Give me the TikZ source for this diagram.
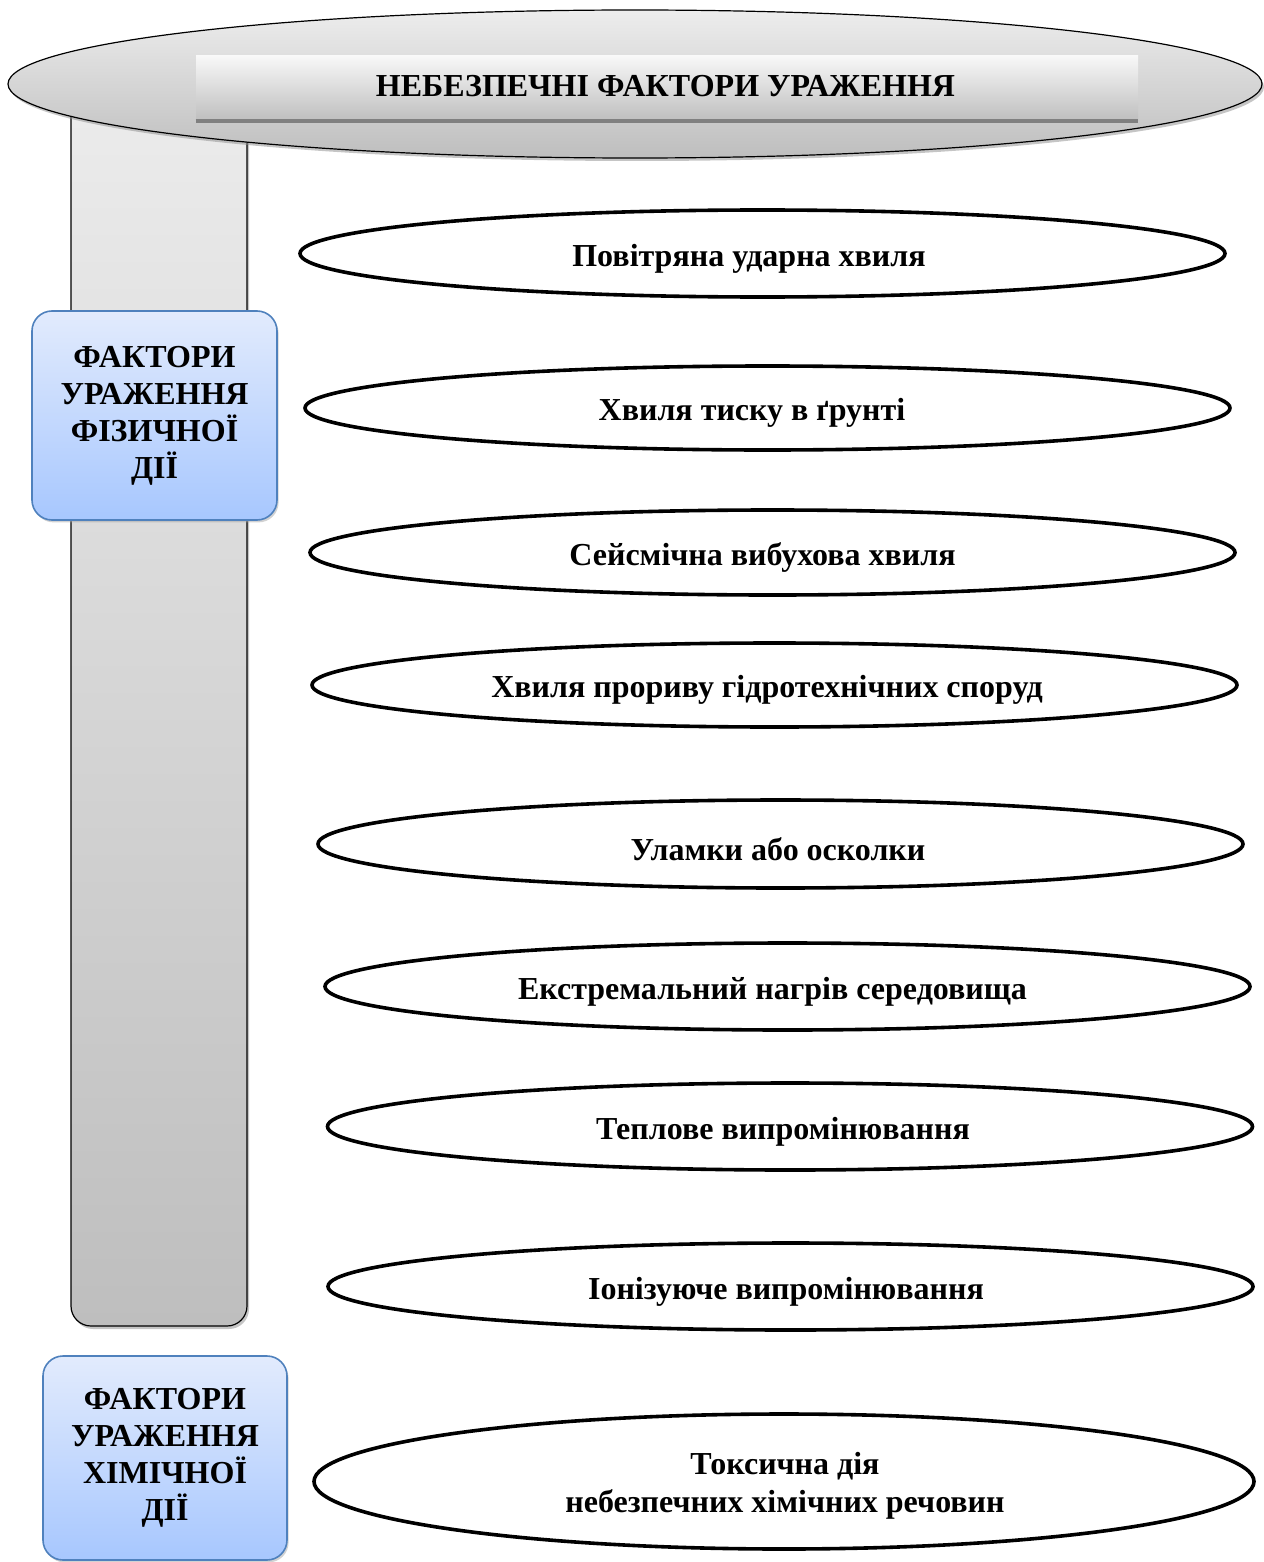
\documentclass[tikz,border=0pt]{standalone}
\usepackage{fontspec}
\setmainfont{Liberation Serif}
\usetikzlibrary{shapes.geometric,shadows}

\definecolor{greytop}{HTML}{EDEDED}
\definecolor{greybot}{HTML}{BEBEBE}
\definecolor{bluetop}{HTML}{E2EBFD}
\definecolor{bluebot}{HTML}{A7C7FE}
\definecolor{blueedge}{HTML}{4F81BD}

\tikzset{
  factor/.style={ellipse, draw=black, line width=1.8pt, fill=white, inner sep=0pt,
    minimum width=462.5pt},
  factortext/.style={inner sep=0pt, align=center, font=\bfseries\fontsize{16}{19}\selectfont},
  groupbox/.style={rectangle, rounded corners=10pt, draw=blueedge, line width=0.8pt,
    top color=bluetop, bottom color=bluebot, inner sep=0pt, align=center,
    font=\bfseries\fontsize{16}{18.5}\selectfont,
    drop shadow={shadow xshift=0.8pt, shadow yshift=-1.2pt, fill=black!35}},
  greyshadow/.style={drop shadow={shadow xshift=1pt, shadow yshift=-1.5pt, fill=black!45}}
}

\begin{document}
\begin{tikzpicture}[x=0.5pt, y=-0.5pt]
  \useasboundingbox (0,0) rectangle (1263,1562);

  % column behind the header
  \draw[line width=0.6pt, rounded corners=10pt, top color=greytop, bottom color=greybot, greyshadow]
    (71,60) -- (71,1326) -- (247,1326) -- (247,60) -- cycle;

  % header
  \node[ellipse, draw=black, line width=0.6pt, top color=greytop, bottom color=greybot, greyshadow,
        minimum width=627pt, minimum height=74pt, inner sep=0pt] (head) at (635,84) {};
  \node[rectangle, top color=white!60!greytop, bottom color=greybot, minimum width=471pt,
        minimum height=32.5pt, inner sep=0pt] (title) at (667,88.5) {};
  \node[factortext] (titletext) at (665.5,86) {НЕБЕЗПЕЧНІ ФАКТОРИ УРАЖЕННЯ};
  \draw[black!50, line width=2pt] (title.south west) -- (title.south east);

  % groups
  \node[groupbox, minimum width=122.5pt, minimum height=104.5pt] (phys) at (154.5,415.5)
    {ФАКТОРИ\\УРАЖЕННЯ\\ФІЗИЧНОЇ\\ДІЇ};
  \node[groupbox, minimum width=122pt, minimum height=102pt] (chem) at (165,1458)
    {ФАКТОРИ\\УРАЖЕННЯ\\ХІМІЧНОЇ\\ДІЇ};

  % factors of physical action
  \foreach \name/\cx/\cy/\hgt/\tx/\txt in {
    1/762.5/253.5/43.5/749/Повітряна ударна хвиля,
    2/767.5/408/42/752/Хвиля тиску в ґрунті,
    3/772.5/552.5/42.5/762.5/Сейсмічна вибухова хвиля,
    4/774.5/685/42/767/Хвиля прориву гідротехнічних споруд,
    5/780.5/844/44/778/Уламки або осколки,
    6/787.5/986.5/43.5/772.5/Екстремальний нагрів середовища,
    7/790/1126.5/43.5/783/Теплове випромінювання,
    8/790.5/1286.5/43.5/786/Іонізуюче випромінювання}
  {
    \node[factor, minimum height=\hgt pt] (f\name) at (\cx,\cy) {};
    \node[factortext] (t\name) at (\tx,\cy+5) {\txt};
  }

  % factor of chemical action
  \node[factor, minimum width=470pt, minimum height=67.5pt] (f9) at (784,1481.5) {};
  \node[factortext] (t9) at (785,1485.5) {Токсична дія\\небезпечних хімічних речовин};
\end{tikzpicture}
\end{document}
